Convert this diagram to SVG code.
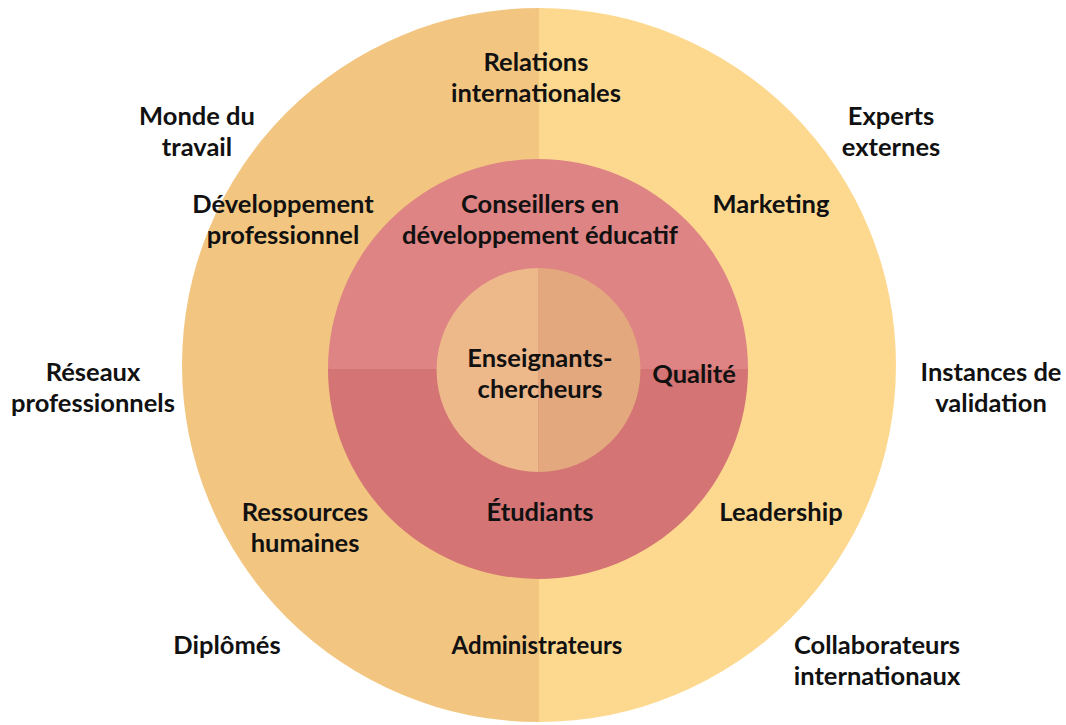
<svg xmlns="http://www.w3.org/2000/svg" width="1066" height="725" viewBox="0 0 1066 725">
<style>
text{font-family:Lato,"Open Sans","Liberation Sans",sans-serif;font-weight:700;font-size:25.5px;fill:#111;text-anchor:middle}
</style>
<rect width="1066" height="725" fill="#fff"/>
<g id="outer">
<path d="M539,8 A357,357 0 0 0 539,722 Z" fill="#F2C680"/>
<path d="M539,8 A357,357 0 0 1 539,722 Z" fill="#FDD990"/>
</g>
<g id="middle">
<path d="M328,369 A210,210 0 0 1 748,369 Z" fill="#DE8484"/>
<path d="M328,369 A210,210 0 0 0 748,369 Z" fill="#D47474"/>
</g>
<g id="inner">
<path d="M538.5,268 A102,102 0 0 0 538.5,472 Z" fill="#EDB88A"/>
<path d="M538.5,268 A102,102 0 0 1 538.5,472 Z" fill="#E3A87E"/>
</g>
<g id="labels">
<g id="relations"><text x="536" y="71">Relations</text><text x="536" y="102">internationales</text></g>
<g id="monde"><text x="197" y="125">Monde du</text><text x="197" y="156">travail</text></g>
<g id="experts"><text x="891" y="125">Experts</text><text x="891" y="156">externes</text></g>
<g id="devpro"><text x="283" y="213">Développement</text><text x="283" y="244">professionnel</text></g>
<g id="conseillers"><text x="540" y="213">Conseillers en</text><text x="540" y="244">développement éducatif</text></g>
<g id="marketing"><text x="771" y="213">Marketing</text></g>
<g id="reseaux"><text x="93" y="381">Réseaux</text><text x="93" y="412">professionnels</text></g>
<g id="enseignants"><text x="540" y="367">Enseignants-</text><text x="540" y="398">chercheurs</text></g>
<g id="qualite"><text x="694" y="383">Qualité</text></g>
<g id="instances"><text x="991" y="381">Instances de</text><text x="991" y="412">validation</text></g>
<g id="rh"><text x="305" y="521">Ressources</text><text x="305" y="552">humaines</text></g>
<g id="etudiants"><text x="540" y="521">Étudiants</text></g>
<g id="leadership"><text x="781" y="521">Leadership</text></g>
<g id="diplomes"><text x="227" y="654">Diplômés</text></g>
<g id="admin"><text x="537" y="654" style="font-size:24px">Administrateurs</text></g>
<g id="collab"><text x="877" y="654">Collaborateurs</text><text x="877" y="685">internationaux</text></g>
</g>
<g id="connectors"/>
</svg>
